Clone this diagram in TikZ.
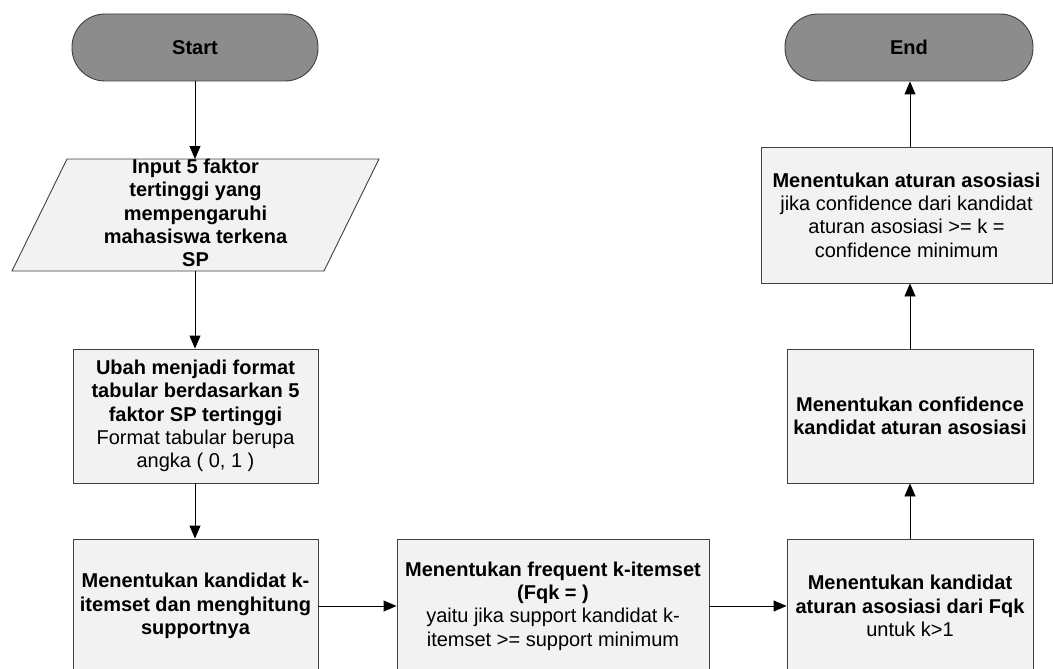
\documentclass[tikz,border=0pt]{standalone}
\usepackage{fontspec}
\setmainfont{Liberation Sans}
\usetikzlibrary{arrows.meta}
\pgfdeclarelayer{background}
\pgfsetlayers{background,main}
\definecolor{termfill}{HTML}{8C8C8C}
\definecolor{boxfill}{HTML}{F2F2F2}
\definecolor{boxline}{HTML}{404040}
\tikzset{
  base/.style={inner sep=0pt, align=center, font=\fontsize{20}{23.3}\selectfont},
  term/.style={base, draw=boxline, fill=termfill, line width=0.9pt, rounded corners=33pt, minimum height=67pt},
  procbox/.style={base, draw=boxline, fill=boxfill, line width=0.9pt, minimum height=134pt},
  arr/.style={draw=black, line width=0.9pt, -{Triangle[length=13pt,width=11pt]}}
}
\begin{document}
\begin{tikzpicture}[x=1pt,y=-1pt]
\useasboundingbox (0,0) rectangle (1053,669);
\clip (0,0) rectangle (1053,669);
\node[term, minimum width=246pt] (start) at (195,47.5) {\bfseries Start};
\node[term, minimum width=248pt] (endn) at (909,47.5) {\bfseries End};
\node[base, minimum width=312pt, minimum height=112pt] (inp) at (195.5,213) {\bfseries Input 5 faktor\\\bfseries tertinggi yang\\\bfseries mempengaruhi\\\bfseries mahasiswa terkena\\\bfseries SP};
\begin{pgfonlayer}{background}
\draw[draw=boxline, fill=boxfill, line width=0.9pt]
  (67,159) -- (379,159) -- (324,271) -- (12,271) -- cycle;
\end{pgfonlayer}
\node[procbox, minimum width=245pt] (ubah) at (195.5,416) {\bfseries Ubah menjadi format\\\bfseries tabular berdasarkan 5\\\bfseries faktor SP tertinggi\\Format tabular berupa\\angka ( 0, 1 )};
\node[procbox, minimum width=245pt] (kand) at (195.5,606) {\bfseries Menentukan kandidat k-\\\bfseries itemset dan menghitung\\\bfseries supportnya};
\node[procbox, minimum width=312pt] (freq) at (553,606) {\bfseries Menentukan frequent k-itemset\\\bfseries (Fqk = )\\yaitu jika support kandidat k-\\itemset >= support minimum};
\node[procbox, minimum width=246pt] (rule) at (910,606) {\bfseries Menentukan kandidat\\\bfseries aturan asosiasi dari Fqk\\untuk k>1};
\node[procbox, minimum width=246pt] (conf) at (910,416) {\bfseries Menentukan confidence\\\bfseries kandidat aturan asosiasi};
\node[procbox, minimum width=291pt, minimum height=136pt] (asos) at (906.5,215) {\bfseries Menentukan aturan asosiasi\\jika confidence dari kandidat\\aturan asosiasi >= k =\\confidence minimum};
\draw[arr] (start.south) -- (start.south |- 0,159);
\draw[arr] (start.south |- 0,271) -- (start.south |- ubah.north);
\draw[arr] (start.south |- ubah.south) -- (start.south |- kand.north);
\draw[arr] (kand.east) -- (freq.west);
\draw[arr] (freq.east) -- (rule.west);
\draw[arr] (rule.north) -- (conf.south);
\draw[arr] (conf.north) -- (conf.north |- asos.south);
\draw[arr] (conf.north |- asos.north) -- (conf.north |- endn.south);
\end{tikzpicture}
\end{document}
